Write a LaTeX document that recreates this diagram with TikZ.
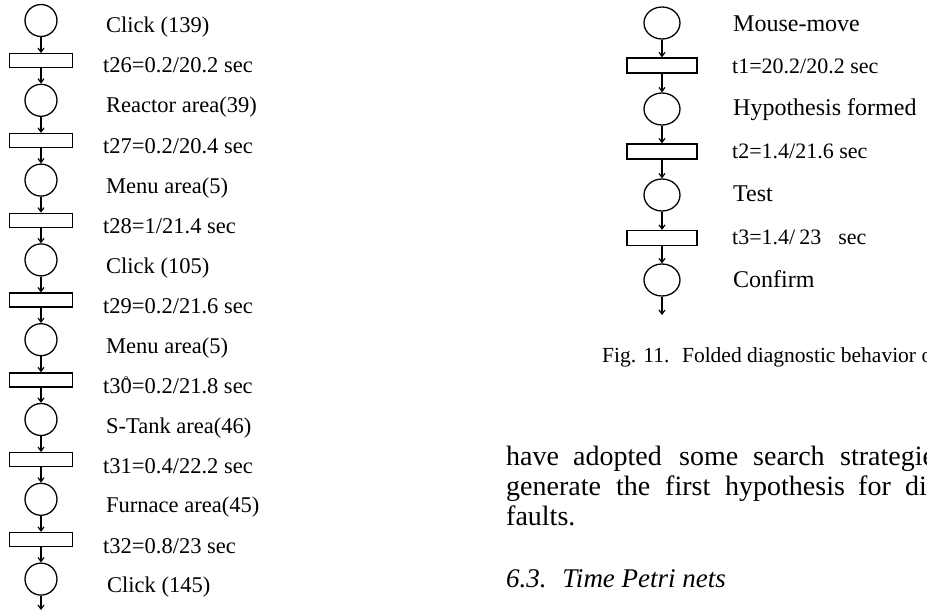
\documentclass[tikz,border=0pt]{standalone}
\usepackage{fontspec}
\setmainfont{Liberation Serif}
\usetikzlibrary{arrows.meta,shapes.geometric}
\begin{document}
\begin{tikzpicture}[x=1pt,y=-1pt,
  lplace/.style={draw,circle,minimum size=32pt,inner sep=0pt,line width=1.3pt},
  ltrans/.style={draw,rectangle,minimum width=63pt,minimum height=14pt,inner sep=0pt,line width=1.3pt},
  rplace/.style={draw,ellipse,minimum width=36pt,minimum height=32pt,inner sep=0pt,line width=1.3pt},
  rtrans/.style={draw,rectangle,minimum width=70pt,minimum height=15pt,inner sep=0pt,line width=1.3pt},
  arr/.style={-{Straight Barb[length=4pt,width=6pt]},line width=1.2pt},
  llab/.style={anchor=base west,inner sep=0pt,font=\fontsize{22.5}{27}\selectfont},
  rlab/.style={anchor=base west,inner sep=0pt,font=\fontsize{24}{29}\selectfont},
  rlabt/.style={anchor=base west,inner sep=0pt,font=\fontsize{22}{27}\selectfont},
  body/.style={anchor=base west,inner sep=0pt,font=\fontsize{28}{33}\selectfont},
  caption/.style={anchor=base west,inner sep=0pt,font=\fontsize{21.5}{26}\selectfont}]
\useasboundingbox (0,0) rectangle (927,613);
% ---- left chain ----
\node[lplace] (lp0) at (41,20.5) {};
\node[ltrans] (lt0) at (41,60.7) {};
\node[lplace] (lp1) at (41,100.3) {};
\node[ltrans] (lt1) at (41,140.5) {};
\node[lplace] (lp2) at (41,180.1) {};
\node[ltrans] (lt2) at (41,220.3) {};
\node[lplace] (lp3) at (41,259.9) {};
\node[ltrans] (lt3) at (41,300.1) {};
\node[lplace] (lp4) at (41,339.7) {};
\node[ltrans] (lt4) at (41,379.9) {};
\node[lplace] (lp5) at (41,419.5) {};
\node[ltrans] (lt5) at (41,459.7) {};
\node[lplace] (lp6) at (41,499.3) {};
\node[ltrans] (lt6) at (41,539.5) {};
\node[lplace] (lp7) at (41,579.1) {};
\coordinate (lend) at (41,610);
\draw[arr] (lp0) -- (lt0);
\draw[arr] (lt0) -- (lp1);
\draw[arr] (lp1) -- (lt1);
\draw[arr] (lt1) -- (lp2);
\draw[arr] (lp2) -- (lt2);
\draw[arr] (lt2) -- (lp3);
\draw[arr] (lp3) -- (lt3);
\draw[arr] (lt3) -- (lp4);
\draw[arr] (lp4) -- (lt4);
\draw[arr] (lt4) -- (lp5);
\draw[arr] (lp5) -- (lt5);
\draw[arr] (lt5) -- (lp6);
\draw[arr] (lp6) -- (lt6);
\draw[arr] (lt6) -- (lp7);
\draw[arr] (lp7) -- (lend);
\node[llab] (a0) at (106,32) {Click (139)};
\node[llab] (b0) at (103,72.5) {t26=0.2/20.2 sec};
\node[llab] (a1) at (106,112.5) {Reactor area(39)};
\node[llab] (b1) at (103,153) {t27=0.2/20.4 sec};
\node[llab] (a2) at (106,193) {Menu area(5)};
\node[llab] (b2) at (103,233.5) {t28=1/21.4 sec};
\node[llab] (a3) at (106,273.4) {Click (105)};
\node[llab] (b3) at (103,313.6) {t29=0.2/21.6 sec};
\node[llab] (a4) at (106,353.2) {Menu area(5)};
\node[llab] (b4) at (103,393.4) {t3\makebox[0pt][l]{\kern3.2pt\raisebox{8.5pt}{\fontsize{12}{12}\selectfont °}}0=0.2/21.8 sec};
\node[llab] (a5) at (106,433) {S-Tank area(46)};
\node[llab] (b5) at (103,473.2) {t31=0.4/22.2 sec};
\node[llab] (a6) at (106,512.8) {Furnace area(45)};
\node[llab] (b6) at (103,553) {t32=0.8/23 sec};
\node[llab] (a7) at (107,592.6) {Click (145)};
% ---- right chain ----
\node[rplace] (rp0) at (662,23) {};
\node[rtrans] (rt0) at (662,65.5) {};
\node[rplace] (rp1) at (662,109) {};
\node[rtrans] (rt1) at (662,151.5) {};
\node[rplace] (rp2) at (662,195) {};
\node[rtrans] (rt2) at (662,238) {};
\node[rplace] (rp3) at (662,280) {};
\coordinate (rend) at (662,315);
\draw[arr] (rp0) -- (rt0);
\draw[arr] (rt0) -- (rp1);
\draw[arr] (rp1) -- (rt1);
\draw[arr] (rt1) -- (rp2);
\draw[arr] (rp2) -- (rt2);
\draw[arr] (rt2) -- (rp3);
\draw[arr] (rp3) -- (rend);
\node[rlab] (c0) at (733,31) {Mouse-move};
\node[rlabt] (d0) at (732,73) {t1=20.2/20.2 sec};
\node[rlab] (c1) at (733,115) {Hypothesis formed};
\node[rlabt] (d1) at (732,158) {t2=1.4/21.6 sec};
\node[rlab] (c2) at (733,201) {Test};
\node[rlabt] (d2) at (732,244) {t3=1.4/\hspace{4pt}23\hspace{17pt}sec};
\node[rlab] (c3) at (733,287) {Confirm};
% ---- caption and body text ----
\node[caption] (cap) at (602,362) {Fig. 11.\hspace{5.4pt} Folded diagnostic behavior o};
\node[body] (w1) at (506,465) {have};
\node[body] (w2) at (573,465) {adopted};
\node[body] (w3) at (679,465) {some};
\node[body] (w4) at (753,465) {search};
\node[body] (w5) at (840,465) {strategie};
\node[body] (w6) at (506,495) {generate};
\node[body] (w7) at (616,495) {the};
\node[body] (w8) at (665,495) {first};
\node[body] (w9) at (725,495) {hypothesis};
\node[body] (w10) at (858,495) {for};
\node[body] (w11) at (905,495) {di};
\node[body] (w12) at (506,525) {faults.};
\node[body,font=\fontsize{27}{32}\selectfont\itshape] (head) at (506,587) {6.3.\hspace{6.75pt} Time Petri nets};
\end{tikzpicture}
\end{document}
